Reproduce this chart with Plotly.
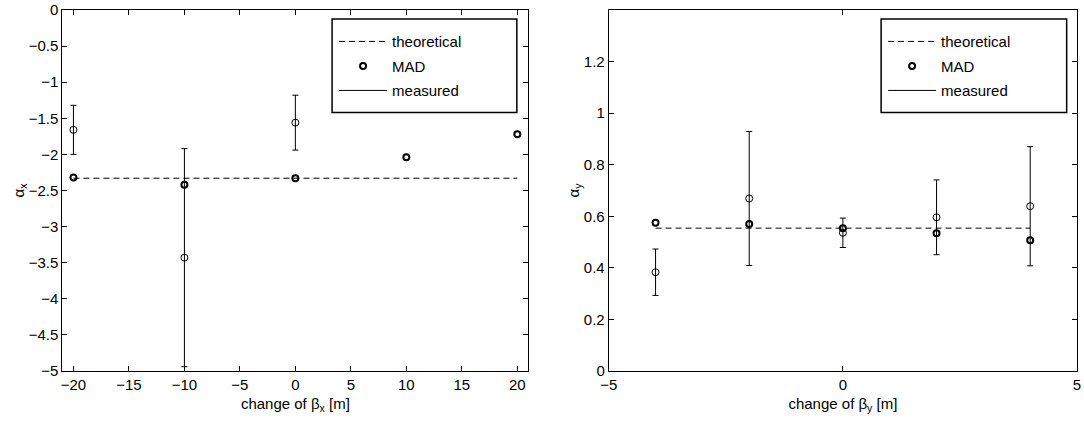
import plotly.graph_objects as go

# ---------------- data ----------------
# left panel: alpha_x vs change of beta_x
X_LEFT = [-20, -10, 0, 10, 20]
MAD_LEFT = [-2.32, -2.42, -2.33, -2.04, -1.72]
MEAS_LEFT_X = [-20, -10, 0]
MEAS_LEFT = [-1.66, -3.43, -1.56]
MEAS_LEFT_ERR = [0.34, 1.51, 0.38]
THEO_LEFT = -2.33

# right panel: alpha_y vs change of beta_y
X_RIGHT = [-4, -2, 0, 2, 4]
MAD_RIGHT = [0.575, 0.570, 0.554, 0.534, 0.507]
MEAS_RIGHT = [0.383, 0.669, 0.536, 0.596, 0.639]
MEAS_RIGHT_ERR = [0.09, 0.26, 0.057, 0.145, 0.231]
THEO_RIGHT = 0.554

# tick labels
LEFT_XTICKS = [-20, -15, -10, -5, 0, 5, 10, 15, 20]
LEFT_XTEXT = ["\u221220", "\u221215", "\u221210", "\u22125", "0", "5", "10", "15", "20"]
LEFT_YTICKS = [0, -0.5, -1, -1.5, -2, -2.5, -3, -3.5, -4, -4.5, -5]
LEFT_YTEXT = ["0", "\u22120.5", "\u22121", "\u22121.5", "\u22122", "\u22122.5", "\u22123",
              "\u22123.5", "\u22124", "\u22124.5", "\u22125"]
RIGHT_XTICKS = [-5, 0, 5]
RIGHT_XTEXT = ["\u22125", "0", "5"]
RIGHT_YTICKS = [0, 0.2, 0.4, 0.6, 0.8, 1.0, 1.2]
RIGHT_YTEXT = ["0", "0.2", "0.4", "0.6", "0.8", "1", "1.2"]

FONT = "Liberation Sans, Arial, Helvetica, sans-serif"
FS = 15
W, H = 1084, 422

fig = go.Figure()


def add_panel(xa, ya, legend, xs, mad, mxs, meas, merr, theo):
    # theoretical dashed line
    fig.add_trace(go.Scatter(
        x=[min(xs), max(xs)], y=[theo, theo], mode="lines",
        line=dict(color="black", width=1, dash="6px,4px"),
        name="theoretical", legend=legend, legendgroup=legend + "a",
        xaxis=xa, yaxis=ya, hoverinfo="skip"))
    # measured points with error bars
    fig.add_trace(go.Scatter(
        x=mxs, y=meas, mode="markers",
        marker=dict(symbol="circle-open", size=7, color="black", line=dict(width=1, color="black")),
        error_y=dict(type="data", array=merr, visible=True, color="black", thickness=1, width=3),
        showlegend=False, xaxis=xa, yaxis=ya))
    # MAD
    fig.add_trace(go.Scatter(
        x=xs, y=mad, mode="markers",
        marker=dict(symbol="circle-open", size=6, color="black", line=dict(width=2, color="black")),
        name="MAD", legend=legend, legendgroup=legend + "b",
        xaxis=xa, yaxis=ya))
    # legend entry for measured (solid line)
    fig.add_trace(go.Scatter(
        x=[None], y=[None], mode="lines", line=dict(color="black", width=1),
        name="measured", legend=legend, legendgroup=legend + "c",
        xaxis=xa, yaxis=ya))


add_panel("x", "y", "legend", X_LEFT, MAD_LEFT, MEAS_LEFT_X, MEAS_LEFT, MEAS_LEFT_ERR, THEO_LEFT)
add_panel("x2", "y2", "legend2", X_RIGHT, MAD_RIGHT, X_RIGHT, MEAS_RIGHT, MEAS_RIGHT_ERR, THEO_RIGHT)

axis_common = dict(
    showline=True, linecolor="black", linewidth=1, mirror="ticks",
    ticks="inside", ticklen=5, tickcolor="black", tickwidth=1,
    showgrid=False, zeroline=False, ticklabeloverflow="allow",
    tickfont=dict(family=FONT, size=FS, color="black"),
)
title_font = dict(family=FONT, size=FS, color="black")

L0, L1 = 54 / W, 525.7 / W
R0, R1 = 607 / W, 1081 / W
BOX_Y0 = (371 - 112.5) / 361
BOX_Y1 = (371 - 19) / 361

legend_common = dict(xanchor="left", y=0.958, yanchor="top",
                     bgcolor="rgba(0,0,0,0)", borderwidth=0, itemwidth=48,
                     traceorder="grouped", tracegroupgap=2,
                     font=dict(family=FONT, size=FS, color="black"))

fig.update_layout(
    width=W, height=H,
    margin=dict(l=0, r=0, t=10, b=51),
    paper_bgcolor="white", plot_bgcolor="white",
    font=dict(family=FONT, size=FS, color="black"),
    showlegend=True,
    xaxis=dict(domain=[L0, L1], range=[-21, 21], tickvals=LEFT_XTICKS, ticktext=LEFT_XTEXT,
               title=dict(text="change of \u03b2<sub>x</sub> [m]", standoff=6, font=title_font),
               **axis_common),
    yaxis=dict(domain=[0, 1], range=[-5, 0], tickvals=LEFT_YTICKS, ticktext=LEFT_YTEXT,
               title=dict(text="\u03b1<sub>x</sub>", standoff=0, font=title_font),
               **axis_common),
    xaxis2=dict(domain=[R0, R1], range=[-5, 5], tickvals=RIGHT_XTICKS, ticktext=RIGHT_XTEXT,
                anchor="y2",
                title=dict(text="change of \u03b2<sub>y</sub> [m]", standoff=6, font=title_font),
                **axis_common),
    yaxis2=dict(domain=[0, 1], range=[0, 1.4], tickvals=RIGHT_YTICKS, ticktext=RIGHT_YTEXT,
                anchor="x2",
                title=dict(text="\u03b1<sub>y</sub>", standoff=0, font=title_font),
                **axis_common),
    legend=dict(x=329 / W, **legend_common),
    legend2=dict(x=884.7 / W, **legend_common),
    shapes=[
        dict(type="rect", xref="x domain", yref="y domain",
             x0=(327 - 54) / 471.7, x1=(514 - 54) / 471.7, y0=BOX_Y0, y1=BOX_Y1,
             line=dict(color="black", width=1.5), fillcolor="rgba(0,0,0,0)", layer="above"),
        dict(type="rect", xref="x2 domain", yref="y2 domain",
             x0=(882.7 - 607) / 474, x1=(1070.5 - 607) / 474, y0=BOX_Y0, y1=BOX_Y1,
             line=dict(color="black", width=1.5), fillcolor="rgba(0,0,0,0)", layer="above"),
    ],
)

fig.write_html("out.html", config={"displayModeBar": False},
               post_script="document.body.style.margin='0';")
